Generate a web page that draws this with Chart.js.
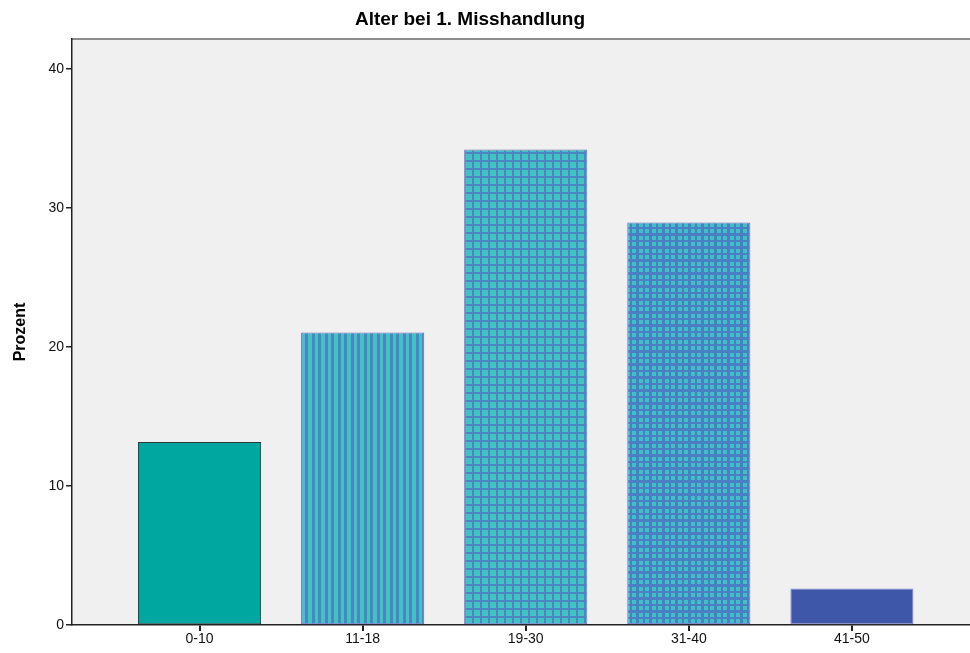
<!DOCTYPE html>
<html>
<head>
<meta charset="utf-8">
<script src="https://cdn.jsdelivr.net/npm/chart.js@4/dist/chart.umd.min.js"></script>
<style>
  html, body { margin: 0; padding: 0; background: #fff; overflow: hidden; }
  canvas { display: block; }
</style>
</head>
<body>
<canvas id="chart" width="970" height="653"></canvas>
<script>
// Age groups at first maltreatment
const categories = ["0-10", "11-18", "19-30", "31-40", "41-50"]
// Percent per group
const percents = [13.16, 21.05, 34.21, 28.95, 2.63]
const yTicks = [0, 10, 20, 30, 40]
const chartTitle = "Alter bei 1. Misshandlung"
const yTitle = "Prozent"

// Build the fill patterns SPSS uses for each bar
function makePattern(w, h, draw) {
  const c = document.createElement("canvas")
  c.width = w
  c.height = h
  const g = c.getContext("2d")
  draw(g)
  return document.getElementById("chart").getContext("2d").createPattern(c, "repeat")
}

const teal = "#42c3c3"
const blue = "#4d85c2"

// vertical stripes
const stripes = makePattern(13, 13, (g) => {
  g.fillStyle = teal
  g.fillRect(0, 0, 13, 13)
  g.fillStyle = blue
  g.fillRect(0, 0, 3, 13)
  g.fillRect(6, 0, 3, 13)
})

// coarse checks
const coarseGrid = makePattern(8, 8, (g) => {
  g.fillStyle = teal
  g.fillRect(0, 0, 8, 8)
  g.fillStyle = blue
  g.fillRect(0, 0, 2, 8)
  g.fillRect(0, 0, 8, 2)
})

// fine checks (teal dots on blue)
const fineGrid = makePattern(13, 13, (g) => {
  g.fillStyle = "#4a7fc4"
  g.fillRect(0, 0, 13, 13)
  g.fillStyle = "#3fbfc6"
  g.fillRect(2, 2, 4, 4)
  g.fillRect(8, 2, 4, 4)
  g.fillRect(2, 8, 4, 4)
  g.fillRect(8, 8, 4, 4)
})

const fills = ["#00a6a0", stripes, coarseGrid, fineGrid, "#3f57a8"]
const borders = ["#2b3b3b", "#6d6dc6", "#6d6dc6", "#6d6dc6", "#8a8ad2"]

// Grey plot background, top frame line and the title
const plotFrame = {
  id: "plotFrame",
  beforeDraw(chart) {
    const { ctx, chartArea } = chart
    ctx.save()
    ctx.fillStyle = "#f0f0f0"
    ctx.fillRect(chartArea.left, chartArea.top, chartArea.right - chartArea.left, chartArea.bottom - chartArea.top)
    ctx.strokeStyle = "#8c8c8c"
    ctx.lineWidth = 2
    ctx.beginPath()
    ctx.moveTo(chartArea.left, chartArea.top)
    ctx.lineTo(chartArea.right, chartArea.top)
    ctx.stroke()
    ctx.restore()
  },
  afterDraw(chart) {
    const { ctx } = chart
    ctx.save()
    ctx.fillStyle = "#000"
    ctx.font = "bold 19px 'Liberation Sans', Arial, sans-serif"
    ctx.textAlign = "center"
    ctx.textBaseline = "middle"
    ctx.fillText(chartTitle, 470, 20)
    ctx.restore()
  },
}

const tickFont = { family: "'Liberation Sans', Arial, sans-serif", size: 14 }

new Chart(document.getElementById("chart"), {
  type: "bar",
  data: {
    datasets: [
      {
        data: percents.map((v, i) => ({ x: i, y: v })),
        backgroundColor: fills,
        borderColor: borders,
        borderWidth: 1,
        borderSkipped: false,
        barPercentage: 0.755,
        categoryPercentage: 1,
      },
    ],
  },
  options: {
    responsive: false,
    animation: false,
    layout: { padding: { top: 39, right: 0, left: 0, bottom: 0 } },
    plugins: {
      legend: { display: false },
      tooltip: { enabled: false },
      title: { display: false },
    },
    scales: {
      x: {
        type: "linear",
        offset: false,
        min: -0.782,
        max: 4.724,
        afterBuildTicks: (axis) => {
          axis.ticks = categories.map((c, i) => ({ value: i }))
        },
        afterFit: (axis) => {
          axis.height = 28
        },
        ticks: {
          color: "#111",
          font: tickFont,
          padding: 0,
          maxRotation: 0,
          callback: (v) => categories[v] ?? "",
        },
        grid: {
          offset: false,
          drawOnChartArea: false,
          drawTicks: true,
          tickLength: 6,
          color: "#222",
          lineWidth: 2,
        },
        border: { display: true, color: "#222", width: 1.5 },
      },
      y: {
        min: 0,
        max: 42.16,
        afterBuildTicks: (axis) => {
          axis.ticks = yTicks.map((v) => ({ value: v }))
        },
        afterFit: (axis) => {
          axis.width = 72
        },
        ticks: {
          color: "#111",
          font: tickFont,
          padding: 2,
        },
        grid: {
          drawOnChartArea: false,
          drawTicks: true,
          tickLength: 6,
          color: "#222",
          lineWidth: 1.5,
        },
        border: { display: true, color: "#222", width: 1.5 },
        title: {
          display: true,
          text: yTitle,
          color: "#000",
          font: { family: "'Liberation Sans', Arial, sans-serif", size: 16, weight: "bold" },
          padding: { top: 11, bottom: 0 },
        },
      },
    },
  },
  plugins: [plotFrame],
})
</script>
</body>
</html>
